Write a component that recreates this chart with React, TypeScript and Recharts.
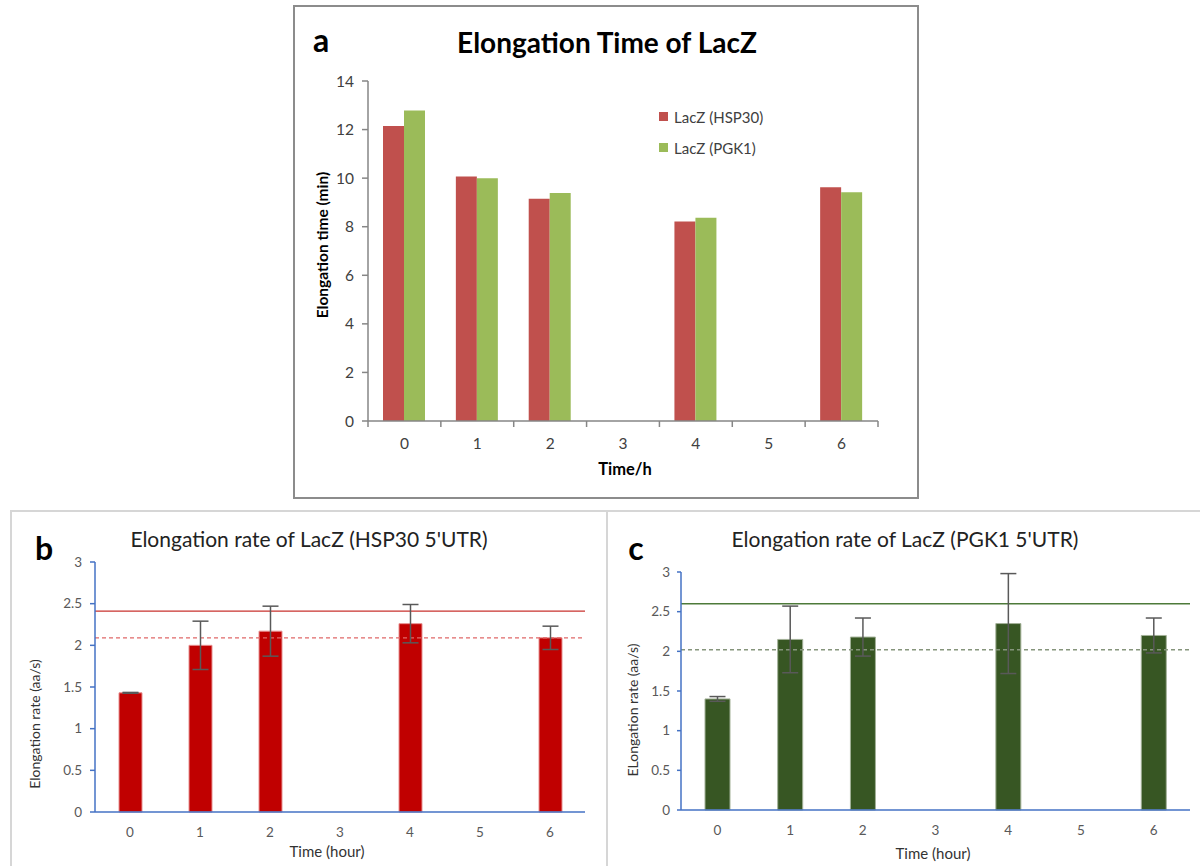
import React from "react";
import { BarChart, Bar, XAxis, YAxis, Legend, ReferenceLine, ErrorBar } from "recharts";

// hours sampled
const hours = ["0", "1", "2", "3", "4", "5", "6"];

// panel a: elongation time (min)
const timeHsp30 = [12.15, 10.07, 9.15, null, 8.21, null, 9.62];
const timePgk1 = [12.79, 10.0, 9.39, null, 8.37, null, 9.42];
const timeTicks = [0, 2, 4, 6, 8, 10, 12, 14];

// panel b: elongation rate, HSP30 5'UTR (aa/s)
const rateHsp30 = [1.43, 2.0, 2.17, null, 2.26, null, 2.09];
const errHsp30 = [0.005, 0.29, 0.3, null, 0.23, null, 0.14];
const hsp30Upper = 2.41;
const hsp30Mean = 2.09;

// panel c: elongation rate, PGK1 5'UTR (aa/s)
const ratePgk1 = [1.4, 2.15, 2.18, null, 2.35, null, 2.2];
const errPgk1 = [0.03, 0.42, 0.24, null, 0.63, null, 0.22];
const pgk1Upper = 2.6;
const pgk1Mean = 2.02;

const rateTicks = [0, 0.5, 1, 1.5, 2, 2.5, 3];

const timeData = hours.map((h, i) => ({ hour: h, hsp30: timeHsp30[i], pgk1: timePgk1[i] }));
const hspData = hours.map((h, i) => ({ hour: h, rate: rateHsp30[i], err: errHsp30[i] }));
const pgkData = hours.map((h, i) => ({ hour: h, rate: ratePgk1[i], err: errPgk1[i] }));

const FONT = "Lato, 'Open Sans', sans-serif";

const Txt = ({ x, y, rotate, style, children }: any) => (
  <div
    style={{
      position: "absolute",
      left: x,
      top: y,
      transform: `translate(-50%, -50%)${rotate ? " rotate(-90deg)" : ""}`,
      whiteSpace: "nowrap",
      lineHeight: 1,
      fontFamily: FONT,
      ...style,
    }}
  >
    {children}
  </div>
);

// category tick with Excel-style tick marks between categories
const EdgeTick = (props: any) => {
  const { x, y, payload, index, visibleTicksCount } = props;
  const half = payload?.offset ?? 0;
  const axisY = y - 17;
  return (
    <g>
      <line x1={x - half} x2={x - half} y1={axisY} y2={axisY + 6} stroke="#868686" strokeWidth={1.5} />
      {index === visibleTicksCount - 1 && (
        <line x1={x + half} x2={x + half} y1={axisY} y2={axisY + 6} stroke="#868686" strokeWidth={1.5} />
      )}
      <text x={x} y={y} dy="0.71em" textAnchor="middle" fill="#404040" fontSize={15.5} fontFamily={FONT}>
        {payload.value}
      </text>
    </g>
  );
};

const renderLegend = ({ payload }: any) => (
  <div style={{ fontFamily: FONT, fontSize: 15, color: "#404040" }}>
    {(payload || []).map((p: any) => (
      <div key={p.value} style={{ display: "flex", alignItems: "center", height: 31 }}>
        <span style={{ width: 9, height: 9, background: p.color, marginRight: 6, display: "inline-block" }} />
        <span>{p.value}</span>
      </div>
    ))}
  </div>
);

const rateTick = { fill: "#595959", fontSize: 13.5, fontFamily: FONT };

export default function App() {
  return (
    <div style={{ position: "absolute", left: 0, top: 0, width: 1200, height: 866, background: "#fff", overflow: "hidden" }}>
      {/* panel a */}
      <div style={{ position: "absolute", left: 293, top: 5, width: 622, height: 490, border: "2px solid #8c8c8c" }} />
      <div style={{ position: "absolute", left: 293, top: 5 }}>
        <BarChart
          width={626}
          height={494}
          data={timeData}
          barSize={21}
          barGap={0}
          margin={{ top: 76, right: 41, left: 35, bottom: 0 }}
        >
          <XAxis
            dataKey="hour"
            height={78}
            tickLine={false}
            tickSize={0}
            tickMargin={17}
            axisLine={{ stroke: "#868686", strokeWidth: 1.5 }}
            tick={<EdgeTick />}
            interval={0}
          />
          <YAxis
            width={40}
            domain={[0, 14]}
            ticks={timeTicks}
            interval={0}
            tickSize={6}
            tickMargin={8}
            axisLine={{ stroke: "#868686", strokeWidth: 1.5 }}
            tickLine={{ stroke: "#868686", strokeWidth: 1.5 }}
            tick={{ fill: "#404040", fontSize: 15.5, fontFamily: FONT }}
          />
          <Legend
            layout="vertical"
            align="center"
            verticalAlign="middle"
            wrapperStyle={{ left: 366, top: 96, width: 170 }}
            content={renderLegend}
          />
          <Bar dataKey="hsp30" name="LacZ (HSP30)" fill="#C0504D" isAnimationActive={false} />
          <Bar dataKey="pgk1" name="LacZ (PGK1)" fill="#9BBB59" isAnimationActive={false} />
        </BarChart>
      </div>
      <Txt x={321} y={40} style={{ fontSize: 32, fontWeight: 700 }}>a</Txt>
      <Txt x={607} y={42} style={{ fontSize: 28, fontWeight: 700 }}>Elongation Time of LacZ</Txt>
      <Txt x={323} y={245} rotate style={{ fontSize: 15.5, fontWeight: 700 }}>Elongation time (min)</Txt>
      <Txt x={625} y={469} style={{ fontSize: 16.5, fontWeight: 700 }}>Time/h</Txt>

      {/* panel b */}
      <div style={{ position: "absolute", left: 10, top: 510, width: 594, height: 360, borderLeft: "2px solid #d6d6d6", borderTop: "2px solid #d6d6d6", borderRight: "2px solid #d6d6d6" }} />
      <div style={{ position: "absolute", left: 10, top: 510 }}>
        <BarChart width={595} height={356} data={hspData} barSize={23} margin={{ top: 52, right: 20, left: 45, bottom: 0 }}>
          <XAxis
            dataKey="hour"
            height={54}
            tickLine={false}
            tickSize={0}
            tickMargin={15}
            interval={0}
            axisLine={{ stroke: "#4472C4", strokeWidth: 1.5 }}
            tick={rateTick}
          />
          <YAxis
            width={40}
            domain={[0, 3]}
            ticks={rateTicks}
            interval={0}
            tickSize={5}
            tickMargin={8}
            axisLine={{ stroke: "#4472C4", strokeWidth: 1.5 }}
            tickLine={{ stroke: "#4472C4", strokeWidth: 1.5 }}
            tick={rateTick}
          />
          <ReferenceLine y={hsp30Upper} stroke="#C8322E" strokeWidth={1.3} />
          <ReferenceLine y={hsp30Mean} stroke="#E06868" strokeWidth={1.3} strokeDasharray="4 3" />
          <Bar dataKey="rate" fill="#C00000" stroke="#E79090" strokeWidth={1} isAnimationActive={false}>
            <ErrorBar dataKey="err" width={8} stroke="#595959" strokeWidth={1.5} />
          </Bar>
        </BarChart>
      </div>
      <Txt x={44} y={548} style={{ fontSize: 32, fontWeight: 700 }}>b</Txt>
      <Txt x={309} y={538} style={{ fontSize: 21, color: "#222" }}>Elongation rate of LacZ (HSP30 5'UTR)</Txt>
      <Txt x={35} y={724} rotate style={{ fontSize: 14, color: "#333" }}>Elongation rate (aa/s)</Txt>
      <Txt x={327} y={851} style={{ fontSize: 15, color: "#333" }}>Time (hour)</Txt>

      {/* panel c */}
      <div style={{ position: "absolute", left: 606, top: 510, width: 600, height: 360, borderLeft: "2px solid #d6d6d6", borderTop: "2px solid #d6d6d6" }} />
      <div style={{ position: "absolute", left: 606, top: 510 }}>
        <BarChart width={594} height={356} data={pgkData} barSize={25} margin={{ top: 62, right: 10, left: 35, bottom: 0 }}>
          <XAxis
            dataKey="hour"
            height={56}
            tickLine={false}
            tickSize={0}
            tickMargin={15}
            interval={0}
            axisLine={{ stroke: "#4472C4", strokeWidth: 1.5 }}
            tick={rateTick}
          />
          <YAxis
            width={40}
            domain={[0, 3]}
            ticks={rateTicks}
            interval={0}
            tickSize={4}
            tickMargin={7}
            axisLine={{ stroke: "#4472C4", strokeWidth: 1.5 }}
            tickLine={{ stroke: "#4472C4", strokeWidth: 1.5 }}
            tick={rateTick}
          />
          <ReferenceLine y={pgk1Upper} stroke="#4E7A3A" strokeWidth={1.3} />
          <ReferenceLine y={pgk1Mean} stroke="#86957C" strokeWidth={1.3} strokeDasharray="4 3" />
          <Bar dataKey="rate" fill="#375623" stroke="#A3B198" strokeWidth={1} isAnimationActive={false}>
            <ErrorBar dataKey="err" width={8} stroke="#595959" strokeWidth={1.5} />
          </Bar>
        </BarChart>
      </div>
      <Txt x={636} y={548} style={{ fontSize: 32, fontWeight: 700 }}>c</Txt>
      <Txt x={905} y={538} style={{ fontSize: 21, color: "#222" }}>Elongation rate of LacZ (PGK1 5'UTR)</Txt>
      <Txt x={633} y={710} rotate style={{ fontSize: 14, color: "#333" }}>ELongation rate (aa/s)</Txt>
      <Txt x={933} y={853} style={{ fontSize: 15, color: "#333" }}>Time (hour)</Txt>
    </div>
  );
}
